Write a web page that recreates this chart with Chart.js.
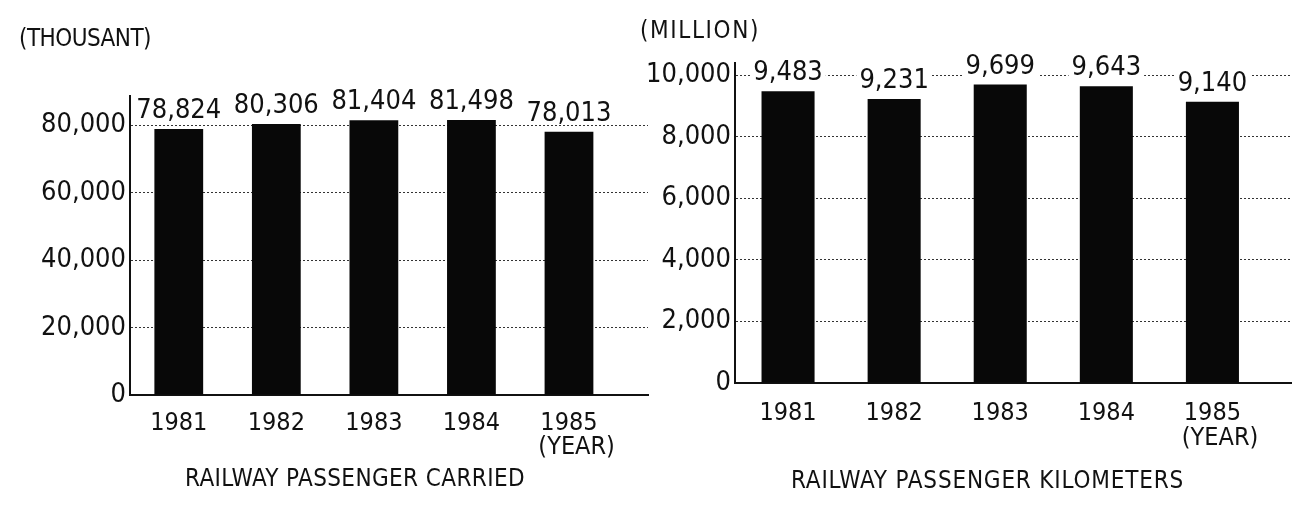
<!DOCTYPE html>
<html>
<head>
<meta charset="utf-8">
<script src="https://cdn.jsdelivr.net/npm/chart.js@4.4.0/dist/chart.umd.min.js"></script>
<style>
    html, body { margin: 0; padding: 0; background: #fff; }
    #wrap { position: relative; width: 1292px; height: 508px; }
    canvas { position: absolute; left: 0; top: 0; }
</style>
</head>
<body>
<div id="wrap">
    <canvas id="carried-chart" width="1292" height="508"></canvas>
    <canvas id="km-chart" width="1292" height="508"></canvas>
</div>
<script>
var years = ['1981', '1982', '1983', '1984', '1985'];
var passengersCarried = [78824, 80306, 81404, 81498, 78013];   // thousand
var passengerKm = [9483, 9231, 9699, 9643, 9140];               // million
var carriedTicks = [0, 20000, 40000, 60000, 80000];
var kmTicks = [0, 2000, 4000, 6000, 8000, 10000];

var FONT = '"Liberation Sans Narrow", "DejaVu Sans Condensed", "Arial Narrow", sans-serif';
var INK = '#111';

// stretch a line of text over a given width (the scan uses a wide typewriter spacing)
function fitText(ctx, text, left, y, width, size) {
    ctx.save();
    ctx.font = size + 'px ' + FONT;
    ctx.letterSpacing = '0px';
    var w = ctx.measureText(text).width;
    ctx.letterSpacing = ((width - w) / text.length) + 'px';
    ctx.fillStyle = INK;
    ctx.textAlign = 'left';
    ctx.textBaseline = 'middle';
    ctx.fillText(text, left, y);
    ctx.restore();
}

var notes = {
    id: 'notes',
    afterDatasetsDraw: function (chart, args, o) {
        var ctx = chart.ctx;
        var bars = chart.getDatasetMeta(0).data;
        var vals = chart.data.datasets[0].data;
        ctx.save();
        ctx.font = o.valueSize + 'px ' + FONT;
        ctx.textAlign = 'center';
        ctx.textBaseline = 'alphabetic';
        bars.forEach(function (bar, i) {
            var txt = vals[i].y.toLocaleString('en-US');
            var w = ctx.measureText(txt).width;
            var base = bar.y - o.valueGap;
            ctx.fillStyle = '#fff';
            ctx.fillRect(bar.x - w / 2 - 3, base - o.valueSize * 0.8, w + 6, o.valueSize * 0.8 + 3);
            ctx.fillStyle = INK;
            ctx.fillText(txt, bar.x, base);
        });
        // "(YEAR)" under the last year, left aligned with it
        var xs = chart.scales.x;
        ctx.font = o.yearSize + 'px ' + FONT;
        var lastX = xs.getPixelForValue(years.length);
        var lw = ctx.measureText(years[years.length - 1]).width;
        ctx.textAlign = 'left';
        ctx.textBaseline = 'middle';
        ctx.fillText('(YEAR)', lastX - lw / 2 - 2, o.yearY);
        ctx.restore();

        fitText(ctx, o.unit, o.unitX, o.unitY, o.unitW, 24);
        fitText(ctx, o.title, o.titleX, o.titleY, o.titleW, 24);
    }
};

function makeChart(id, values, ticks, box, note) {
    var ctx = document.getElementById(id).getContext('2d');
    return new Chart(ctx, {
        type: 'bar',
        data: {
            datasets: [{
                data: values.map(function (v, i) { return {x: i + 1, y: v}; }),
                backgroundColor: '#080808',
                borderWidth: 0,
                barPercentage: 0.5,
                categoryPercentage: 1.0
            }]
        },
        options: {
            responsive: false,
            animation: false,
            layout: {padding: {left: box.padLeft, right: box.padRight, top: box.top, bottom: 0}},
            plugins: {legend: {display: false}, tooltip: {enabled: false}, notes: note},
            scales: {
                x: {
                    type: 'linear',
                    offset: false,
                    min: 0.5,
                    max: box.xMax,
                    afterBuildTicks: function (s) { s.ticks = years.map(function (y, i) { return {value: i + 1}; }); },
                    afterFit: function (s) { s.height = box.xHeight; },
                    grid: {display: false},
                    border: {display: true, color: INK, width: 2},
                    ticks: {
                        callback: function (v) { return years[v - 1]; },
                        font: {family: FONT, size: 25},
                        color: INK,
                        padding: box.xPad,
                        maxRotation: 0,
                        autoSkip: false
                    }
                },
                y: {
                    min: 0,
                    max: box.yMax,
                    afterBuildTicks: function (s) { s.ticks = ticks.map(function (v) { return {value: v}; }); },
                    afterFit: function (s) { s.width = box.yWidth; },
                    grid: {
                        color: function (c) { return c.tick && c.tick.value === 0 ? 'rgba(0,0,0,0)' : '#333'; },
                        lineWidth: 1,
                        drawTicks: false
                    },
                    border: {display: true, color: INK, width: 2, dash: [2, 2]},
                    ticks: {
                        callback: function (v) { return v.toLocaleString('en-US'); },
                        font: {family: FONT, size: 27},
                        color: INK,
                        padding: 4
                    }
                }
            }
        },
        plugins: [notes]
    });
}

makeChart('carried-chart', passengersCarried, carriedTicks,
    {padLeft: 0, padRight: 644, top: 96, yWidth: 130, xHeight: 113, xPad: 5, xMax: 5.81, yMax: 88600},
    {valueSize: 27, valueGap: 11, yearSize: 25, yearY: 447,
     unit: '(THOUSANT)', unitX: 19, unitY: 40, unitW: 132,
     title: 'RAILWAY PASSENGER CARRIED', titleX: 185, titleY: 480, titleW: 340});

makeChart('km-chart', passengerKm, kmTicks,
    {padLeft: 640, padRight: 0, top: 63, yWidth: 95, xHeight: 125, xPad: 7, xMax: 5.75, yMax: 10400},
    {valueSize: 27, valueGap: 11, yearSize: 25, yearY: 438,
     unit: '(MILLION)', unitX: 640, unitY: 32, unitW: 120,
     title: 'RAILWAY PASSENGER KILOMETERS', titleX: 791, titleY: 482, titleW: 393});
</script>
</body>
</html>
